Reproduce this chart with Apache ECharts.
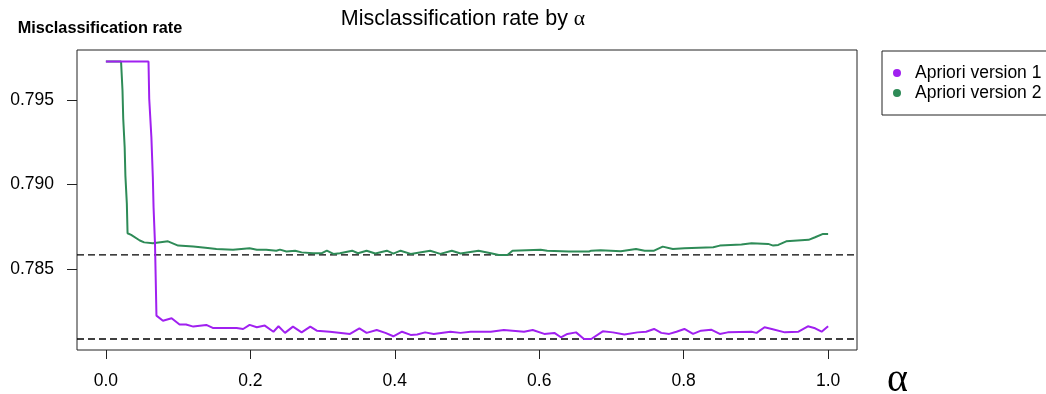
<!DOCTYPE html>
<html>
<head>
<meta charset="utf-8">
<script src="https://cdn.jsdelivr.net/npm/echarts@6/dist/echarts.min.js"></script>
<style>html,body{margin:0;padding:0;background:#fff}#c{width:1046px;height:394px}</style>
</head>
<body>
<div id="c"></div>
<script>
const seriesNames = ['Apriori version 1', 'Apriori version 2'];
const xTicks = [0, 0.2, 0.4, 0.6, 0.8, 1.0];
const yTicks = [0.785, 0.790, 0.795];

const alphaV1 = [0, 0.059, 0.060, 0.063, 0.065, 0.066, 0.068, 0.069, 0.070, 0.079, 0.091, 0.102, 0.111, 0.121, 0.139, 0.148, 0.181, 0.190, 0.199, 0.209, 0.220, 0.232, 0.239, 0.248, 0.259, 0.271, 0.283, 0.292, 0.310, 0.338, 0.351, 0.361, 0.375, 0.387, 0.398, 0.410, 0.422, 0.431, 0.442, 0.454, 0.477, 0.491, 0.505, 0.533, 0.551, 0.579, 0.591, 0.607, 0.621, 0.630, 0.639, 0.651, 0.662, 0.672, 0.688, 0.702, 0.718, 0.736, 0.748, 0.759, 0.769, 0.780, 0.790, 0.801, 0.813, 0.824, 0.838, 0.850, 0.861, 0.894, 0.901, 0.912, 0.922, 0.940, 0.959, 0.972, 0.982, 0.991, 1.000];
const rateV1 = [0.79726, 0.79726, 0.79506, 0.79279, 0.79043, 0.78866, 0.78650, 0.78443, 0.78227, 0.78197, 0.78211, 0.78174, 0.78174, 0.78162, 0.78172, 0.78154, 0.78154, 0.78148, 0.78172, 0.78158, 0.78168, 0.78132, 0.78164, 0.78125, 0.78162, 0.78128, 0.78162, 0.78138, 0.78132, 0.78119, 0.78152, 0.78125, 0.78142, 0.78125, 0.78105, 0.78132, 0.78113, 0.78115, 0.78128, 0.78119, 0.78132, 0.78125, 0.78132, 0.78132, 0.78142, 0.78132, 0.78142, 0.78119, 0.78125, 0.78099, 0.78119, 0.78128, 0.78089, 0.78089, 0.78134, 0.78128, 0.78115, 0.78128, 0.78132, 0.78148, 0.78125, 0.78119, 0.78132, 0.78148, 0.78119, 0.78138, 0.78144, 0.78119, 0.78128, 0.78132, 0.78125, 0.78158, 0.78148, 0.78128, 0.78132, 0.78164, 0.78152, 0.78132, 0.78164];

const alphaV2 = [0.000, 0.021, 0.023, 0.024, 0.026, 0.027, 0.029, 0.030, 0.035, 0.047, 0.053, 0.065, 0.086, 0.100, 0.121, 0.141, 0.153, 0.176, 0.199, 0.209, 0.222, 0.236, 0.241, 0.250, 0.262, 0.271, 0.287, 0.299, 0.306, 0.315, 0.324, 0.341, 0.349, 0.361, 0.373, 0.389, 0.398, 0.408, 0.422, 0.449, 0.463, 0.479, 0.491, 0.516, 0.533, 0.544, 0.556, 0.563, 0.602, 0.611, 0.641, 0.669, 0.672, 0.685, 0.699, 0.713, 0.734, 0.746, 0.759, 0.771, 0.785, 0.801, 0.841, 0.850, 0.880, 0.894, 0.917, 0.924, 0.931, 0.942, 0.973, 0.982, 0.993, 1.000];
const rateV2 = [0.79726, 0.79726, 0.79555, 0.79390, 0.79220, 0.79053, 0.78888, 0.78713, 0.78703, 0.78670, 0.78659, 0.78654, 0.78665, 0.78640, 0.78634, 0.78626, 0.78620, 0.78615, 0.78624, 0.78616, 0.78616, 0.78610, 0.78616, 0.78605, 0.78610, 0.78600, 0.78595, 0.78595, 0.78610, 0.78591, 0.78595, 0.78610, 0.78595, 0.78610, 0.78593, 0.78610, 0.78593, 0.78610, 0.78591, 0.78610, 0.78591, 0.78610, 0.78593, 0.78610, 0.78595, 0.78585, 0.78585, 0.78610, 0.78615, 0.78609, 0.78605, 0.78605, 0.78610, 0.78613, 0.78610, 0.78606, 0.78620, 0.78610, 0.78610, 0.78634, 0.78620, 0.78624, 0.78630, 0.78640, 0.78646, 0.78654, 0.78650, 0.78640, 0.78644, 0.78665, 0.78674, 0.78689, 0.78709, 0.78709];

const xRange = [-0.04, 1.04];
const yRange = [0.78024, 0.79794];
const colors = ['#A020F0', '#2E8B57'];
const pairs = (xs, ys) => xs.map((x, i) => [x, ys[i]]);
const minV1 = Math.min(...rateV1);
const minV2 = Math.min(...rateV2);

const chart = echarts.init(document.getElementById('c'), null, {renderer: 'canvas'});
const FONT = 'Liberation Sans, Arial, sans-serif';
const refLine = (name, v) => ({
  name: name, type: 'line', data: [[xRange[0], v], [xRange[1], v]], showSymbol: false, silent: true, z: 1,
  lineStyle: {color: '#000', type: [7, 4], width: 1.3}, itemStyle: {color: '#000'}
});
chart.setOption({
  animation: false,
  backgroundColor: '#fff',
  textStyle: {fontFamily: FONT},
  title: {
    text: 'Misclassification rate by {a|α}',
    left: 458, textAlign: 'center', top: 3,
    textStyle: {fontSize: 21.5, fontWeight: 'normal', color: '#000', fontFamily: FONT,
      rich: {a: {fontSize: 21.5, fontFamily: 'Liberation Serif, serif', color: '#000'}}}
  },
  legend: {
    data: seriesNames, orient: 'vertical', left: 888, top: 58,
    icon: 'circle', itemWidth: 8, itemHeight: 8, itemGap: 0,
    textStyle: {fontSize: 17.5, color: '#000', lineHeight: 20, padding: [0, 0, 0, 9], fontFamily: FONT}
  },
  graphic: [{
    type: 'rect', shape: {x: 882, y: 51, width: 200, height: 64},
    style: {fill: 'none', stroke: '#222', lineWidth: 1}, silent: true
  }],
  grid: {left: 77, right: 189, top: 50, bottom: 44, show: true, borderColor: '#222', borderWidth: 1,
    backgroundColor: 'transparent', containLabel: false, outerBoundsMode: 'none'},
  xAxis: {
    type: 'value', min: xRange[0], max: xRange[1],
    name: 'α', nameLocation: 'end', nameGap: 30,
    nameTextStyle: {fontSize: 40, fontFamily: 'Liberation Serif, serif', color: '#000', verticalAlign: 'top', align: 'left', padding: [10, 0, 0, 0]},
    axisLine: {show: false, onZero: false},
    axisTick: {show: true, customValues: xTicks, length: 9, lineStyle: {color: '#222'}},
    axisLabel: {customValues: xTicks, margin: 22, fontSize: 17.5, color: '#000', formatter: v => v.toFixed(1)},
    splitLine: {show: false}
  },
  yAxis: {
    type: 'value', min: yRange[0], max: yRange[1],
    name: 'Misclassification rate', nameLocation: 'end', nameGap: 13,
    nameTextStyle: {fontSize: 16.3, fontWeight: 'bold', color: '#000', align: 'center', padding: [0, 0, 0, 46]},
    axisLine: {show: false, onZero: false},
    axisTick: {show: true, customValues: yTicks, length: 10, lineStyle: {color: '#222'}},
    axisLabel: {customValues: yTicks, margin: 23, fontSize: 17.5, color: '#000', formatter: v => v.toFixed(3)},
    splitLine: {show: false}
  },
  series: [
    {name: seriesNames[0], type: 'line', data: pairs(alphaV1, rateV1), showSymbol: false, z: 3,
      lineStyle: {color: colors[0], width: 2}, itemStyle: {color: colors[0]}},
    {name: seriesNames[1], type: 'line', data: pairs(alphaV2, rateV2), showSymbol: false, z: 2,
      lineStyle: {color: colors[1], width: 2}, itemStyle: {color: colors[1]}},
    refLine('min version 1', minV1),
    refLine('min version 2', minV2)
  ]
});
</script>
</body>
</html>
